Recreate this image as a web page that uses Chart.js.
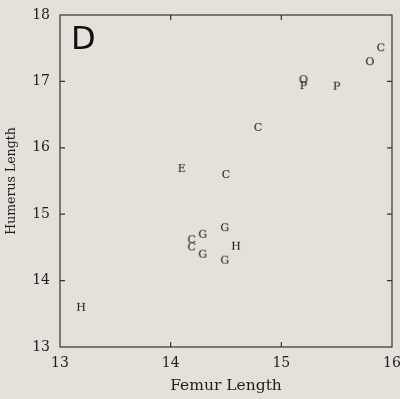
<!DOCTYPE html>
<html>
<head>
<meta charset="utf-8">
<script src="https://cdn.jsdelivr.net/npm/chart.js@4/dist/chart.umd.min.js"></script>
<style>
  html, body { margin: 0; padding: 0; background: #e3e1da; }
  #wrap { width: 400px; height: 399px; }
</style>
</head>
<body>
<div id="wrap"><canvas id="myChart" width="400" height="399"></canvas></div>
<script>
const codes   = ['H',   'E',   'C',   'C',   'G',   'G',   'C',   'C',   'G',   'G',   'H',   'O',   'C',   'O',   'P',   'P'];
const femur   = [13.19, 14.10, 14.50, 14.79, 14.49, 14.29, 14.19, 14.19, 14.29, 14.49, 14.59, 15.80, 15.90, 15.20, 15.20, 15.50];
const humerus = [13.59, 15.68, 15.59, 16.30, 14.79, 14.69, 14.61, 14.50, 14.39, 14.30, 14.51, 17.29, 17.50, 17.02, 16.93, 16.92];

const xTicks = [13, 14, 15, 16];
const yTicks = [13, 14, 15, 16, 17, 18];

const ink = '#1e1e1e';

// one little canvas per letter so the letter is the point marker
const letterIcon = (ch) => {
    const c = document.createElement('canvas');
    c.width = 14;
    c.height = 14;
    const g = c.getContext('2d');
    g.fillStyle = '#111';
    g.font = '11px "DejaVu Serif"';
    g.textAlign = 'center';
    g.textBaseline = 'middle';
    g.fillText(ch, 7, 7.5);
    return c;
};

const letters = [...new Set(codes)];
const datasets = letters.map((ch) => ({
    label: ch,
    data: codes.map((c, i) => c === ch ? { x: femur[i], y: humerus[i] } : null).filter(Boolean),
    pointStyle: letterIcon(ch),
    pointRadius: 7
}));

// inward tick marks, box and panel letter
const frame = {
    id: 'frame',
    afterDraw(chart) {
        const { ctx, chartArea: a, scales } = chart;
        ctx.save();
        ctx.strokeStyle = '#333';
        ctx.lineWidth = 1.2;
        ctx.strokeRect(a.left, a.top, a.right - a.left, a.bottom - a.top);
        const len = 5;
        ctx.beginPath();
        xTicks.slice(1, -1).forEach((v) => {
            const px = scales.x.getPixelForValue(v);
            ctx.moveTo(px, a.bottom); ctx.lineTo(px, a.bottom - len);
            ctx.moveTo(px, a.top); ctx.lineTo(px, a.top + len);
        });
        yTicks.slice(1, -1).forEach((v) => {
            const py = scales.y.getPixelForValue(v);
            ctx.moveTo(a.left, py); ctx.lineTo(a.left + len, py);
            ctx.moveTo(a.right, py); ctx.lineTo(a.right - len, py);
        });
        ctx.stroke();
        ctx.fillStyle = '#111';
        ctx.font = '32px "DejaVu Sans"';
        ctx.textBaseline = 'alphabetic';
        ctx.fillText('D', a.left + 11, a.top + 34);
        ctx.restore();
    }
};

const ctx = document.getElementById('myChart').getContext('2d');
const chart = new Chart(ctx, {
    type: 'scatter',
    data: { datasets: datasets },
    options: {
        responsive: false,
        animation: false,
        layout: { padding: { top: 15, right: 8, left: 0, bottom: 0 } },
        plugins: { legend: { display: false }, tooltip: { enabled: false } },
        scales: {
            x: {
                min: 13, max: 16,
                afterBuildTicks: (s) => { s.ticks = xTicks.map((v) => ({ value: v })); },
                afterFit: (s) => { s.height = 52; s.paddingRight = 0; s.paddingLeft = 0; },
                grid: { display: false, drawTicks: false },
                border: { display: false },
                ticks: { color: ink, padding: 8, font: { family: 'DejaVu Serif', size: 14 } },
                title: { display: true, text: 'Femur Length', color: ink, padding: { top: 4 }, font: { family: 'DejaVu Serif', size: 15.5 } }
            },
            y: {
                min: 13, max: 18,
                afterBuildTicks: (s) => { s.ticks = yTicks.map((v) => ({ value: v })); },
                afterFit: (s) => { s.width = 60; s.paddingTop = 0; s.paddingBottom = 0; },
                grid: { display: false, drawTicks: false },
                border: { display: false },
                ticks: { color: ink, padding: 10, font: { family: 'DejaVu Serif', size: 14 } },
                title: { display: true, text: 'Humerus Length', color: ink, padding: { bottom: 4 }, font: { family: 'DejaVu Serif', size: 12.5 } }
            }
        }
    },
    plugins: [frame]
});
</script>
</body>
</html>
